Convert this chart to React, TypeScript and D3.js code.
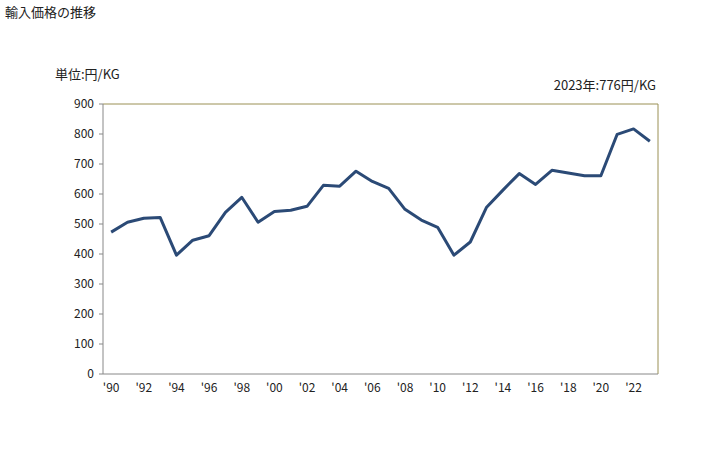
import * as d3 from "d3";

const years = d3.range(1990, 2024);
const prices = [
  473, 506, 519, 522, 396, 446, 461, 539, 589, 506,
  542, 546, 559, 629, 626, 676, 642, 619, 549, 513,
  489, 396, 440, 556, 613, 668, 632, 679, 670, 661,
  661, 799, 817, 776,
];
const yTicks = [0, 100, 200, 300, 400, 500, 600, 700, 800, 900];
const labelYears = years.filter((y) => y % 2 === 0);

const W = 728;
const H = 450;
const margin = { top: 104, right: 70, bottom: 76, left: 103 };
const font = "'MS PGothic', 'Noto Sans CJK JP', sans-serif";

export default function App() {
  const x = d3
    .scalePoint<number>()
    .domain(years)
    .range([margin.left, W - margin.right])
    .padding(0.5);
  const y = d3
    .scaleLinear()
    .domain([0, 900])
    .range([H - margin.bottom, margin.top]);

  const line = d3
    .line<number>()
    .x((_, i) => x(years[i])!)
    .y((d) => y(d));

  const left = margin.left;
  const right = W - margin.right;
  const top = margin.top;
  const bottom = H - margin.bottom;

  return (
    <svg
      width={W}
      height={H}
      style={{ position: "absolute", left: 0, top: 0, fontFamily: font }}
    >
      <rect width={W} height={H} fill="#fff" />
      <text x={5} y={17} fontSize={13} fill="#222">
        輸入価格の推移
      </text>
      <text x={55} y={79} fontSize={13} fill="#222">
        単位:円/KG
      </text>
      <text x={656} y={90} fontSize={13} fill="#222" textAnchor="end">
        2023年:776円/KG
      </text>

      {/* frame */}
      <line x1={left} x2={right} y1={top} y2={top} stroke="#9a9055" />
      <line x1={right} x2={right} y1={top} y2={bottom} stroke="#9a9055" />
      <line x1={left} x2={left} y1={top} y2={bottom} stroke="#888" />
      <line x1={left} x2={right} y1={bottom} y2={bottom} stroke="#888" />

      {yTicks.map((t) => (
        <g key={t}>
          <line x1={left - 4} x2={left} y1={y(t)} y2={y(t)} stroke="#888" />
          <text
            x={left - 9}
            y={y(t)}
            dy="0.35em"
            fontSize={12}
            textAnchor="end"
            fill="#222"
          >
            {t}
          </text>
        </g>
      ))}

      {labelYears.map((yr) => (
        <text
          key={yr}
          x={x(yr)!}
          y={bottom + 18}
          fontSize={12}
          textAnchor="middle"
          fill="#222"
        >
          {"'" + String(yr).slice(2)}
        </text>
      ))}

      <path
        d={line(prices)!}
        fill="none"
        stroke="#2b4a76"
        strokeWidth={3}
        strokeLinejoin="round"
      />
    </svg>
  );
}
